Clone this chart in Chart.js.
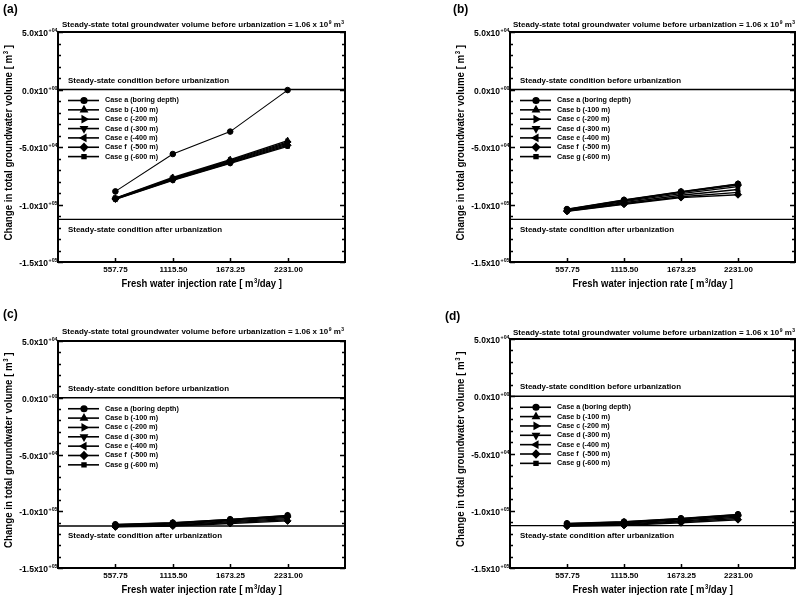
<!DOCTYPE html>
<html>
<head>
<meta charset="utf-8">
<script src="https://cdn.jsdelivr.net/npm/chart.js@4.4.1/dist/chart.umd.min.js"></script>
<style>
  html, body { margin: 0; padding: 0; background: #fff; }
  #fig { position: relative; width: 800px; height: 595px; overflow: hidden; }
  #fig canvas { position: absolute; }
</style>
</head>
<body>
<div id="fig">
  <canvas id="panel-a" width="400" height="300" style="left:0;top:0"></canvas>
  <canvas id="panel-b" width="400" height="300" style="left:400px;top:0"></canvas>
  <canvas id="panel-c" width="400" height="295" style="left:0;top:300px"></canvas>
  <canvas id="panel-d" width="400" height="295" style="left:400px;top:300px"></canvas>
</div>
<script>
// ── Data ──
const injectionRates = [557.75, 1115.50, 1673.25, 2231.00];   // m3/day
const caseLabels = ['Case a (boring depth)', 'Case b (-100 m)', 'Case c (-200 m)', 'Case d (-300 m)',
                    'Case e (-400 m)', 'Case f  (-500 m)', 'Case g (-600 m)'];

// change in total groundwater volume [m3], one row per case (a..g)
const volumesA = [
  [-88600, -56100, -36600,   -500],
  [-94500, -76500, -61000, -44500],
  [-94700, -77000, -61700, -45500],
  [-94900, -77500, -62300, -46500],
  [-95000, -78000, -63000, -47500],
  [-95200, -78500, -63700, -48500],
  [-95400, -79000, -64300, -49500]
];
const volumesB = [
  [-104000, -96000, -88700, -82000],
  [-104300, -96300, -89000, -82300],
  [-104600, -96800, -89500, -83000],
  [-105000, -97500, -90500, -84500],
  [-105400, -98500, -92000, -87000],
  [-106000, -99800, -94000, -91500],
  [-105800, -99300, -93300, -89500]
];
const volumesC = [
  [-111500, -110000, -107000, -103500],
  [-111800, -110300, -107300, -104000],
  [-112200, -110800, -107800, -104600],
  [-112600, -111300, -108500, -105500],
  [-113000, -112000, -109300, -106500],
  [-113800, -113000, -110800, -108500],
  [-113400, -112500, -110000, -107500]
];
const volumesD = [
  [-111000, -109500, -106500, -103000],
  [-111300, -109800, -106900, -103500],
  [-111700, -110300, -107400, -104000],
  [-112100, -110900, -108000, -104800],
  [-112600, -111600, -108900, -105700],
  [-113500, -112800, -110500, -107800],
  [-113000, -112200, -109700, -106800]
];

const beforeLevel = 0;          // steady-state before urbanization
const afterLevel = -113000;     // steady-state after urbanization
const xMin = 0, xMax = 2788.75, xStep = 557.75;
const yMin = -150000, yMax = 50000, yMajor = 50000, yMinor = 10000;

// ── Styles ──
const markerStyles = ['circle', 'triangle', 'triangle', 'triangle', 'triangle', 'rectRot', 'rect'];
const markerRotation = [0, 0, 90, 180, 270, 0, 0];
const markerRadius = [2.8, 3.5, 3.5, 3.5, 3.5, 3.5, 2.7];
const FONT = "'Liberation Sans', Arial, sans-serif";

function fitText(ctx, str, x, y, size, width, align) {
  ctx.save();
  ctx.font = `bold ${size}px ${FONT}`;
  ctx.textBaseline = 'middle';
  ctx.textAlign = align || 'left';
  const s = width ? width / ctx.measureText(str).width : 1;
  ctx.translate(x, y);
  ctx.scale(s, 1);
  ctx.fillText(str, 0, 0);
  ctx.restore();
}

// texto con superíndices: [[texto, esSup], ...]
function richText(ctx, parts, x, y, size, width, align) {
  ctx.save();
  ctx.textBaseline = 'alphabetic';
  ctx.textAlign = 'left';
  const supSize = size * 0.62;
  let total = 0;
  parts.forEach(([t, sup]) => { ctx.font = `bold ${sup ? supSize : size}px ${FONT}`; total += ctx.measureText(t).width; });
  const s = width ? width / total : 1;
  const w = total * s;
  ctx.translate(align === 'center' ? x - w / 2 : align === 'right' ? x - w : x, y);
  ctx.scale(s, 1);
  let cx = 0;
  const base = size * 0.36;
  parts.forEach(([t, sup]) => {
    ctx.font = `bold ${sup ? supSize : size}px ${FONT}`;
    ctx.fillText(t, cx + (sup ? 0.5 : 0), sup ? base - size * 0.4 : base);
    cx += ctx.measureText(t).width + (sup ? 0.5 : 0);
  });
  ctx.restore();
}

function sciParts(v) {
  if (v === 0) return [['0.0x10', false], ['+00', true]];
  const e = Math.floor(Math.log10(Math.abs(v)));
  const m = (v / Math.pow(10, e)).toFixed(1);
  return [[m + 'x10', false], ['+' + String(e).padStart(2, '0'), true]];
}

function makeDecor(p) {
  return {
    id: 'decor',
    afterDraw(chart) {
      const { ctx, chartArea: ca, scales: { x, y } } = chart;
      ctx.save();
      ctx.fillStyle = '#000';
      ctx.strokeStyle = '#000';

      // marco
      ctx.lineWidth = 2;
      ctx.strokeRect(ca.left, ca.top, ca.right - ca.left, ca.bottom - ca.top);

      // ticks eje y (hacia adentro, ambos lados)
      ctx.lineWidth = 1.5;
      y.ticks.forEach(t => {
        const py = Math.round(y.getPixelForValue(t.value)) + 0.5;
        const major = Math.abs(t.value % yMajor) < 1;
        const len = major ? 5 : 3;
        ctx.beginPath();
        ctx.moveTo(ca.left, py); ctx.lineTo(ca.left + len, py);
        ctx.moveTo(ca.right, py); ctx.lineTo(ca.right - len, py);
        ctx.stroke();
        if (major) richText(ctx, sciParts(t.value), ca.left - 1, py, 8.5, null, 'right');
      });

      // ticks eje x
      x.ticks.forEach(t => {
        if (t.value <= xMin || t.value >= xMax - 1) return;
        const px = Math.round(x.getPixelForValue(t.value)) + 0.5;
        ctx.beginPath();
        ctx.moveTo(px, ca.bottom); ctx.lineTo(px, ca.bottom - 4);
        ctx.stroke();
        fitText(ctx, t.value.toFixed(2), px, ca.bottom + 7.5, 8, null, 'center');
      });

      // títulos de ejes
      const xc = (ca.left + ca.right) / 2;
      richText(ctx, [['Fresh water injection rate [ m', false], ['3', true], ['/day ]', false]],
        xc, ca.bottom + 21, 10.5, 160, 'center');
      ctx.save();
      ctx.translate(ca.left - 50, (ca.top + ca.bottom) / 2 - 4);
      ctx.rotate(-Math.PI / 2);
      richText(ctx, [['Change in total groundwater volume [ m', false], ['3', true], [' ]', false]],
        0, 0, 10.5, 195, 'center');
      ctx.restore();

      // encabezado y etiqueta del panel
      richText(ctx, [['Steady-state total groundwater volume before urbanization = 1.06 x 10', false], ['9', true], [' m', false], ['3', true]],
        xc + 1, p.headerY, 8, 281, 'center');
      fitText(ctx, p.label, p.labelX, p.labelY, 12, null, 'left');

      // anotaciones de las líneas de referencia
      const y0 = y.getPixelForValue(beforeLevel);
      const y1 = y.getPixelForValue(afterLevel);
      fitText(ctx, 'Steady-state condition before urbanization', ca.left + 10, y0 - 9, 8, 161, 'left');
      fitText(ctx, 'Steady-state condition after urbanization', ca.left + 10, y1 + 10, 8, 154, 'left');

      // leyenda
      chart.data.datasets.forEach((ds, i) => {
        if (ds.isRef) return;
        const ry = y0 + 11 + i * 9.35;
        ctx.lineWidth = 1.6;
        ctx.beginPath();
        ctx.moveTo(ca.left + 10, ry); ctx.lineTo(ca.left + 41, ry);
        ctx.stroke();
        const opts = { pointStyle: ds.pointStyle, rotation: ds.pointRotation, radius: ds.pointRadius, borderWidth: 1 };
        if (Chart.helpers && Chart.helpers.drawPoint) Chart.helpers.drawPoint(ctx, opts, ca.left + 26, ry);
        ctx.fillStyle = '#000';
        fitText(ctx, ds.label, ca.left + 47, ry, 7.2, null, 'left');
      });
      ctx.restore();
    }
  };
}

function buildPanel(id, volumes, p) {
  const datasets = volumes.map((vals, i) => ({
    label: caseLabels[i],
    data: injectionRates.map((r, k) => ({ x: r, y: vals[k] })),
    borderColor: '#000',
    backgroundColor: '#000',
    borderWidth: i === 0 ? 1.1 : 1.4,
    pointStyle: markerStyles[i],
    pointRotation: markerRotation[i],
    pointRadius: markerRadius[i],
    pointBorderWidth: 1,
    tension: 0
  }));
  [beforeLevel, afterLevel].forEach(level => datasets.push({
    isRef: true,
    data: [{ x: xMin, y: level }, { x: xMax, y: level }],
    borderColor: '#000',
    borderWidth: 1.3,
    pointRadius: 0
  }));

  const noSize = s => { if (s.isHorizontal()) s.height = 0; else s.width = 0; };
  new Chart(document.getElementById(id), {
    type: 'line',
    data: { datasets },
    options: {
      responsive: false,
      animation: false,
      devicePixelRatio: 1,
      layout: { padding: p.pad },
      plugins: { legend: { display: false }, tooltip: { enabled: false } },
      scales: {
        x: {
          type: 'linear', min: xMin, max: xMax,
          ticks: { display: false, stepSize: xStep },
          grid: { display: false }, border: { display: false },
          afterFit: noSize
        },
        y: {
          type: 'linear', min: yMin, max: yMax,
          ticks: { display: false, stepSize: yMinor },
          grid: { display: false }, border: { display: false },
          afterFit: noSize
        }
      }
    },
    plugins: [makeDecor(p)]
  });
}

buildPanel('panel-a', volumesA, { label: '(a)', labelX: 3, labelY: 10, headerY: 24, pad: { left: 58, right: 55, top: 32, bottom: 38 } });
buildPanel('panel-b', volumesB, { label: '(b)', labelX: 53, labelY: 10, headerY: 24, pad: { left: 110, right: 5, top: 32, bottom: 38 } });
buildPanel('panel-c', volumesC, { label: '(c)', labelX: 3, labelY: 15, headerY: 31, pad: { left: 58, right: 55, top: 41, bottom: 27 } });
buildPanel('panel-d', volumesD, { label: '(d)', labelX: 45, labelY: 17, headerY: 32, pad: { left: 110, right: 5, top: 39, bottom: 27 } });
</script>
</body>
</html>
